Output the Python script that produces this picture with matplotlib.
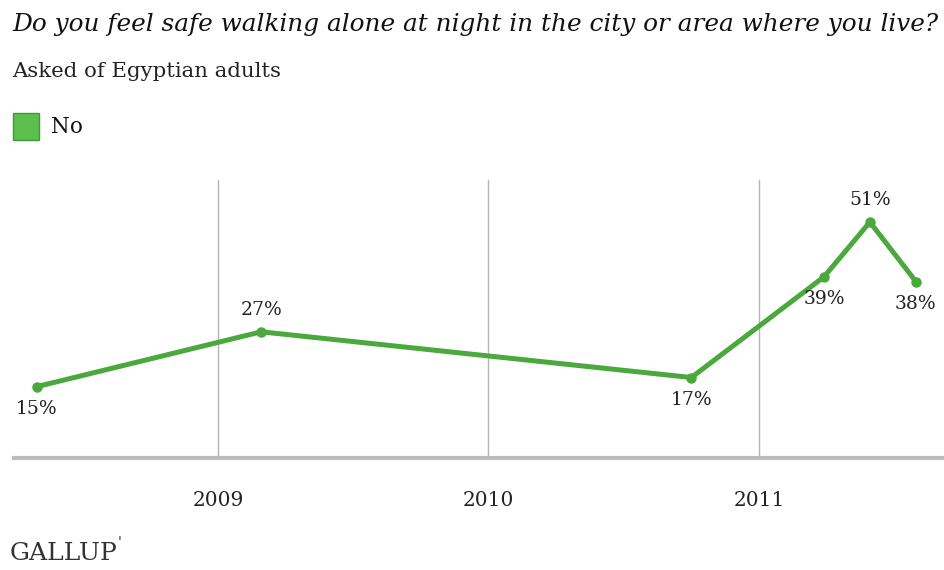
import matplotlib
matplotlib.use("Agg")
import matplotlib.pyplot as plt
from matplotlib.patches import Rectangle

# survey waves, as fractional years
waves = [2008.33, 2009.16, 2010.75, 2011.24, 2011.41, 2011.58]
pct_no = [15, 27, 17, 39, 51, 38]
label_side = ["below", "above", "below", "below", "above", "below"]
years = [2009, 2010, 2011]

title = "Do you feel safe walking alone at night in the city or area where you live?"
subtitle = "Asked of Egyptian adults"
series_name = "No"

GREEN = "#4aa83c"
GRID = "#b4b4b4"
W, H = 944, 570

plt.rcParams["font.family"] = ["DejaVu Serif"]

fig = plt.figure(figsize=(W / 100, H / 100), dpi=100)
fig.patch.set_facecolor("white")

ax = fig.add_axes([14 / W, 1 - 458 / H, 930 / W, (458 - 180) / H])
ax.plot(waves, pct_no, color=GREEN, lw=3.6, marker="o", ms=6.5,
        solid_joinstyle="round", zorder=3)

for x, v, side in zip(waves, pct_no, label_side):
    dy = 16 if side == "above" else -16
    ax.annotate(f"{v}%", (x, v), xytext=(0, dy), textcoords="offset points",
                ha="center", va="center", fontsize=13.5, color="#222222")

ax.set_xlim(2008.246, 2011.684)
ax.set_ylim(-0.6, 60.2)
ax.set_xticks(years)
ax.set_xticklabels([str(y) for y in years], fontsize=14.5, color="#222222")
ax.set_yticks([])
ax.tick_params(axis="x", length=0, pad=24)
ax.grid(axis="x", color=GRID, lw=1)
for side in ["left", "right", "top"]:
    ax.spines[side].set_visible(False)
ax.spines["bottom"].set_color("#bdbdbd")
ax.spines["bottom"].set_linewidth(3)

# header text
fig.text(12 / W, 1 - 13 / H, title, ha="left", va="top", fontsize=17.8,
         style="italic", color="#111111")
fig.text(12 / W, 1 - 62 / H, subtitle, ha="left", va="top", fontsize=15.3,
         color="#222222")

# legend swatch
fig.patches.append(Rectangle((13 / W, 1 - 140 / H), 26 / W, 27 / H,
                             transform=fig.transFigure, facecolor="#5cbf4e",
                             edgecolor="#3e9a34", lw=1))
fig.text(51 / W, 1 - 127 / H, series_name, ha="left", va="center",
         fontsize=15.5, color="#111111")

fig.text(10 / W, 1 - 553 / H, "GALLUP", ha="left", va="center", fontsize=18,
         color="#333333")
fig.text(118 / W, 1 - 543 / H, "'", ha="left", va="center", fontsize=10,
         color="#333333")

fig.savefig("out.png", dpi=100)
